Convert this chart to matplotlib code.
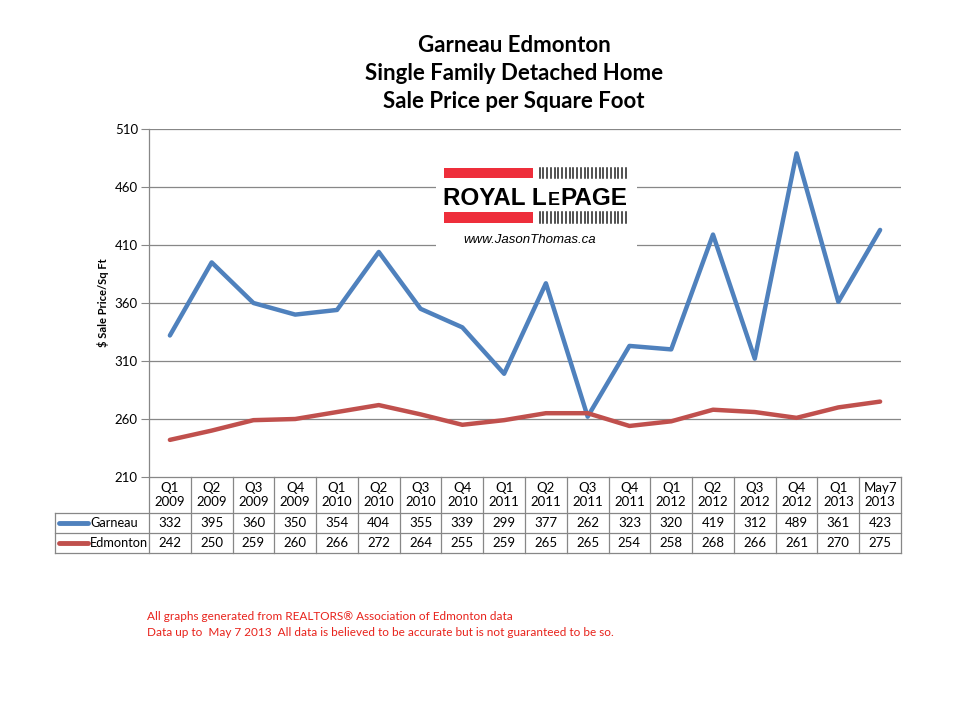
import matplotlib
matplotlib.use("Agg")
import matplotlib.pyplot as plt
from matplotlib.lines import Line2D
from matplotlib.patches import Rectangle

categories = ["Q1\n2009", "Q2\n2009", "Q3\n2009", "Q4\n2009",
              "Q1\n2010", "Q2\n2010", "Q3\n2010", "Q4\n2010",
              "Q1\n2011", "Q2\n2011", "Q3\n2011", "Q4\n2011",
              "Q1\n2012", "Q2\n2012", "Q3\n2012", "Q4\n2012",
              "Q1\n2013", "May7\n2013"]
garneau = [332, 395, 360, 350, 354, 404, 355, 339, 299, 377, 262, 323, 320, 419, 312, 489, 361, 423]
edmonton = [242, 250, 259, 260, 266, 272, 264, 255, 259, 265, 265, 254, 258, 268, 266, 261, 270, 275]
series_names = ["Garneau", "Edmonton"]
yticks = [210, 260, 310, 360, 410, 460, 510]

BLUE = "#4F81BD"
RED = "#C0504D"
GRID = "#878787"
FONT = ["Lato", "DejaVu Sans"]

plt.rcParams['font.family'] = FONT

fig = plt.figure(figsize=(9.6, 7.2), dpi=100)
L, R, T, B = 149, 901, 129, 477
ax = fig.add_axes([L / 960, 1 - B / 720, (R - L) / 960, (B - T) / 720])

x = list(range(len(categories)))
ax.plot(x, garneau, color=BLUE, lw=3.2, solid_capstyle='round', zorder=3)
ax.plot(x, edmonton, color=RED, lw=3.2, solid_capstyle='round', zorder=3)

ax.set_xlim(-0.5, len(categories) - 0.5)
ax.set_ylim(yticks[0], yticks[-1])
ax.set_yticks(yticks)
ax.set_yticklabels([str(v) for v in yticks], fontsize=9.5)
ax.set_xticks([])
for g in yticks[1:]:
    ax.axhline(g, color=GRID, lw=0.9, zorder=1)
for s in ["top", "right", "bottom"]:
    ax.spines[s].set_visible(False)
ax.spines["left"].set_color(GRID)
ax.spines["left"].set_linewidth(0.9)
ax.tick_params(axis='y', length=6, color=GRID, pad=2)
ax.set_ylabel("$ Sale Price/Sq Ft", fontsize=8, fontweight='bold', labelpad=4)

# data table
W = R - L
H = B - T
def ay(py):
    return (B - py) / H
def axx(px):
    return (px - L) / W

tline = dict(color=GRID, lw=0.9, transform=ax.transAxes, clip_on=False)
n = len(categories)
ax.add_line(Line2D([0, 1], [0, 0], **tline))
for py in (513, 533, 553):
    ax.add_line(Line2D([axx(55), 1], [ay(py), ay(py)], **tline))
for i in range(n + 1):
    xf = i / n
    ax.add_line(Line2D([xf, xf], [0, ay(553)], **tline))
ax.add_line(Line2D([axx(55), axx(55)], [ay(513), ay(553)], **tline))

for i, c in enumerate(categories):
    xc = (i + 0.5) / n
    ax.text(xc, ay(495), c, transform=ax.transAxes, ha='center', va='center',
            fontsize=9.5, linespacing=1.25)
    ax.text(xc, ay(523), str(garneau[i]), transform=ax.transAxes, ha='center',
            va='center', fontsize=9.5)
    ax.text(xc, ay(543), str(edmonton[i]), transform=ax.transAxes, ha='center',
            va='center', fontsize=9.5)

for name, col, py in zip(series_names, [BLUE, RED], [523, 543]):
    ax.add_line(Line2D([axx(59), axx(88)], [ay(py), ay(py)], color=col, lw=3.5,
                       solid_capstyle='round', transform=ax.transAxes, clip_on=False))
    ax.text(axx(90), ay(py), name, transform=ax.transAxes, ha='left', va='center',
            fontsize=9.2)

# title
for t, py in zip(["Garneau Edmonton", "Single Family Detached Home",
                  "Sale Price per Square Foot"], [45, 73, 101]):
    fig.text(514 / 960, 1 - py / 720, t, ha='center', va='center',
             fontsize=16, fontweight='bold')

# logo
def fx(px): return px / 960
def fy(py): return 1 - py / 720
fig.patches.append(Rectangle((fx(436), fy(252)), fx(637) - fx(436), fy(160) - fy(252),
                             transform=fig.transFigure, facecolor='white',
                             edgecolor='none', zorder=5))
for y0, y1 in ((168, 178), (212, 223)):
    fig.patches.append(Rectangle((fx(444), fy(y1)), fx(533) - fx(444), fy(y0) - fy(y1),
                                 transform=fig.transFigure, facecolor='#EE2E3B',
                                 edgecolor='none', zorder=6))
    bx = 539.5
    while bx <= 629:
        fig.add_artist(Line2D([fx(bx), fx(bx)], [fy(y1), fy(y0)], color='#222222',
                              lw=1.1, zorder=6, transform=fig.transFigure))
        bx += 3.75

logo_kw = dict(fontweight='bold', family=['Liberation Sans'], ha='left',
               va='baseline', zorder=7)
pieces = [("ROYAL L", 17.5, 0.0), ("E", 13.0, 1.0), ("PAGE", 17.5, 1.0)]
fig.canvas.draw()
rend = fig.canvas.get_renderer()
cur_x = 443.0
for txt, fs, gap in pieces:
    cur_x += gap
    tt = fig.text(fx(cur_x), fy(205), txt, fontsize=fs, **logo_kw)
    bb = tt.get_window_extent(rend)
    cur_x = bb.x1
fig.text(fx(530), fy(240), "www.JasonThomas.ca", fontsize=9.5, style='italic',
         family=['Liberation Sans'], ha='center', va='center', zorder=7)

# footer
fig.text(fx(147), fy(616), "All graphs generated from REALTORS\u00ae Association of Edmonton data",
         color='#E8221B', fontsize=8.5, ha='left', va='center')
fig.text(fx(147), fy(633), "Data up to  May 7 2013  All data is believed to be accurate but is not guaranteed to be so.",
         color='#E8221B', fontsize=8.5, ha='left', va='center')

fig.savefig("out.png", dpi=100, facecolor='white')
